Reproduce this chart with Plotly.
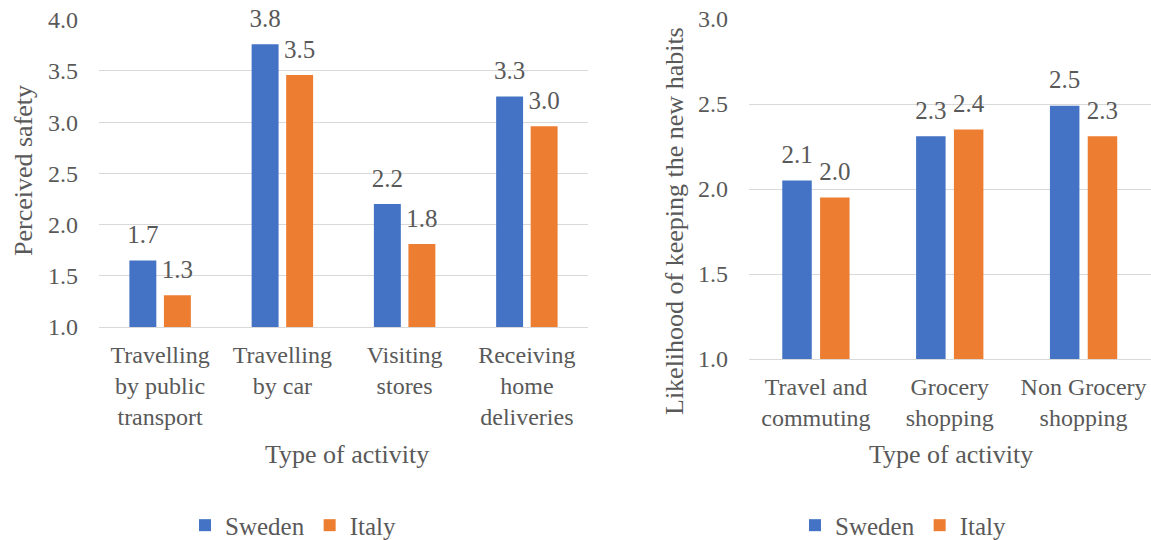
import plotly.graph_objects as go

# ---- data ----
left_categories = ["Travelling<br>by public<br>transport", "Travelling<br>by car",
                   "Visiting<br>stores", "Receiving<br>home<br>deliveries"]
left_sweden = [1.65, 3.76, 2.20, 3.25]
left_italy = [1.31, 3.46, 1.81, 2.96]
left_sweden_labels = ["1.7", "3.8", "2.2", "3.3"]
left_italy_labels = ["1.3", "3.5", "1.8", "3.0"]

right_categories = ["Travel and<br>commuting", "Grocery<br>shopping", "Non Grocery<br>shopping"]
right_sweden = [2.05, 2.31, 2.49]
right_italy = [1.95, 2.35, 2.31]
right_sweden_labels = ["2.1", "2.3", "2.5"]
right_italy_labels = ["2.0", "2.4", "2.3"]

series_names = ["Sweden", "Italy"]

# ---- style ----
BLUE = "#4472C4"
ORANGE = "#ED7D31"
TXT = "#595959"
GRID = "#D9D9D9"
FONT = "Liberation Serif"
W, H = 1151, 540

fig = go.Figure()

def add_pair(cats, sw, it, swl, itl, xa, ya, legend):
    for name, vals, labs, col, grp in [(series_names[0], sw, swl, BLUE, "sw"),
                                       (series_names[1], it, itl, ORANGE, "it")]:
        fig.add_trace(go.Bar(x=cats, y=vals, name=name, marker=dict(color=col, line=dict(width=0)),
                             xaxis=xa, yaxis=ya, legend=legend, offsetgroup=grp,
                             hoverinfo="skip"))
        fig.add_trace(go.Scatter(x=cats, y=vals, text=labs, mode="markers+text",
                                 textposition="top center",
                                 marker=dict(size=16, opacity=0, color=col),
                                 textfont=dict(size=25, color=TXT),
                                 xaxis=xa, yaxis=ya, offsetgroup=grp, showlegend=False,
                                 cliponaxis=False, hoverinfo="skip"))

add_pair(left_categories, left_sweden, left_italy, left_sweden_labels, left_italy_labels,
         "x", "y", "legend")
add_pair(right_categories, right_sweden, right_italy, right_sweden_labels, right_italy_labels,
         "x2", "y2", "legend2")

tickfont = dict(size=24, color=TXT)
xcommon = dict(type="category", showgrid=False, zeroline=False, showline=True,
               linecolor=GRID, linewidth=1, ticks="", tickfont=tickfont,
               ticklabelstandoff=6, fixedrange=True, automargin=False)
ycommon = dict(showgrid=True, gridcolor=GRID, gridwidth=1, zeroline=False, showline=False,
               ticks="", dtick=0.5, tickformat=".1f", tickfont=tickfont,
               ticklabelstandoff=20, fixedrange=True, automargin=False)

legend_common = dict(orientation="h", xanchor="center", yanchor="middle", y=0.027,
                     font=dict(size=25, color=TXT), bgcolor="rgba(0,0,0,0)")

ann_font = dict(size=26, color=TXT)
annotations = [
    dict(text="Perceived safety", x=23 / W, y=1 - 171 / H, xref="paper", yref="paper",
         textangle=-90, showarrow=False, xanchor="center", yanchor="middle", font=ann_font),
    dict(text="Likelihood of keeping the new habits", x=675 / W, y=1 - 221 / H, xref="paper",
         yref="paper", textangle=-90, showarrow=False, xanchor="center", yanchor="middle",
         font=ann_font),
    dict(text="Type of activity", x=347 / W, y=1 - 454 / H, xref="paper", yref="paper",
         showarrow=False, xanchor="center", yanchor="middle", font=ann_font),
    dict(text="Type of activity", x=951 / W, y=1 - 454 / H, xref="paper", yref="paper",
         showarrow=False, xanchor="center", yanchor="middle", font=ann_font),
]

fig.update_layout(
    template="none",
    width=W, height=H, margin=dict(l=0, r=0, t=0, b=0, autoexpand=False),
    font=dict(family=FONT, color=TXT),
    paper_bgcolor="white", plot_bgcolor="white",
    barmode="group", bargap=0.435, bargroupgap=0.22,
    scattermode="group", scattergap=0.435,
    xaxis=dict(domain=[99 / W, 588 / W], anchor="y", **xcommon),
    yaxis=dict(domain=[1 - 327 / H, 1 - 19.7 / H], range=[1, 4], anchor="x", **ycommon),
    xaxis2=dict(domain=[749 / W, 1150.5 / W], anchor="y2", **xcommon),
    yaxis2=dict(domain=[1 - 359 / H, 1 - 19 / H], range=[1, 3], anchor="x2", **ycommon),
    legend=dict(x=293 / W, **legend_common),
    legend2=dict(x=903 / W, **legend_common),
    annotations=annotations,
    showlegend=True,
)

fig.write_html("out.html")
